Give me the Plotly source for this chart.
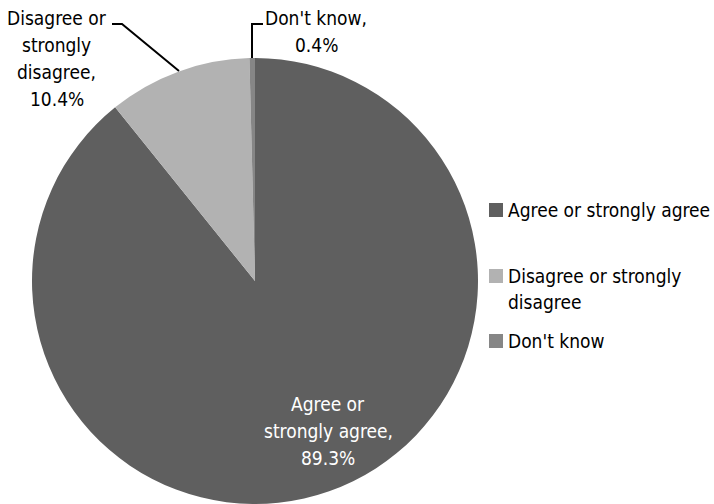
import plotly.graph_objects as go

labels = ["Agree or strongly agree", "Disagree or strongly disagree", "Don't know"]
values = [89.3, 10.4, 0.4]
colors = ["#5f5f5f", "#b2b2b2", "#868686"]
slice_text = ["Agree or<br>strongly agree,", "Disagree or<br>strongly<br>disagree,", "Don't know,"]
legend_text = ["Agree or strongly agree", "Disagree or strongly<br>disagree", "Don't know"]

W, H = 714, 504
FONT = "DejaVu Sans Condensed, sans-serif"

def px(x):
    return x / W

def py(y):
    return 1 - y / H

fig = go.Figure(go.Pie(
    labels=labels, values=values, sort=False, direction="clockwise", rotation=0,
    marker=dict(colors=colors, line=dict(width=0)),
    textinfo="none", hoverinfo="label+percent", showlegend=False,
    domain=dict(x=[px(32), px(478)], y=[py(504), py(58)]),
))

anns = []

def add_lines(text, cx, y0, step, color, anchor="center"):
    for k, line in enumerate(text.split("<br>")):
        anns.append(dict(x=px(cx), y=py(y0 + k * step), text=line, showarrow=False,
                         font=dict(color=color, size=19, family=FONT),
                         xanchor=anchor, yanchor="middle", align=anchor))

# slice labels
add_lines(f"{slice_text[0]}<br>{values[0]}%", 328, 404, 27, "white")
add_lines(f"{slice_text[1]}<br>{values[1]}%", 57, 18, 27, "black")
add_lines(f"{slice_text[2]}<br>{values[2]}%", 316, 18, 27, "black")

shapes = [
    dict(type="path", xref="paper", yref="paper",
         path=f"M {px(112)} {py(24)} L {px(122)} {py(24)} L {px(179)} {py(71)}",
         line=dict(color="black", width=2)),
    dict(type="path", xref="paper", yref="paper",
         path=f"M {px(263)} {py(24)} L {px(252)} {py(24)} L {px(252)} {py(58)}",
         line=dict(color="black", width=2)),
]

# manual legend
leg_y = [210, 276, 341]
for i, (t, c) in enumerate(zip(legend_text, colors)):
    shapes.append(dict(type="rect", xref="paper", yref="paper",
                       x0=px(489), x1=px(503), y0=py(leg_y[i] - 7), y1=py(leg_y[i] + 7),
                       fillcolor=c, line=dict(width=0)))
    add_lines(t, 506, leg_y[i], 26, "black", anchor="left")

fig.update_layout(
    width=W, height=H, margin=dict(l=0, r=0, t=0, b=0),
    paper_bgcolor="white", plot_bgcolor="white",
    annotations=anns, shapes=shapes, showlegend=False,
)

fig.write_html("out.html")
